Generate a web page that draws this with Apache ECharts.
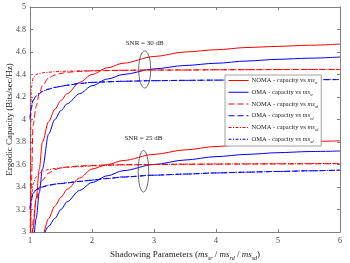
<!DOCTYPE html>
<html>
<head>
<meta charset="utf-8">
<script src="https://cdn.jsdelivr.net/npm/echarts@6/dist/echarts.min.js"></script>
<style>
html,body{margin:0;padding:0;background:#fff;}
#chart{width:350px;height:263px;}
</style>
</head>
<body>
<div id="chart"></div>
<script>
// ---- data ----
const xVals = [1, 1.02, 1.05, 1.1, 1.15, 1.2, 1.3, 1.4, 1.5, 1.6, 1.8, 2, 2.25, 2.5, 3, 3.5, 4, 4.5, 5, 5.5, 6];

// SNR = 30 dB
const nomaSr30 = [2.7, 2.85, 3.03, 3.3, 3.56, 3.8, 3.98, 4.09, 4.17, 4.23, 4.33, 4.40, 4.46, 4.50, 4.56, 4.60, 4.62, 4.64, 4.65, 4.66, 4.67];
const omaSr30  = [2.6, 2.75, 2.92, 3.12, 3.35, 3.56, 3.87, 4.0, 4.08, 4.14, 4.23, 4.30, 4.36, 4.40, 4.45, 4.48, 4.50, 4.52, 4.535, 4.545, 4.555];
const nomaRd30 = [2.5, 3.4, 3.95, 4.12, 4.23, 4.30, 4.37, 4.395, 4.41, 4.42, 4.428, 4.432, 4.435, 4.437, 4.44, 4.44, 4.442, 4.443, 4.444, 4.445, 4.445];
const omaRd30  = [4.0, 4.1, 4.17, 4.21, 4.23, 4.25, 4.27, 4.285, 4.295, 4.305, 4.32, 4.33, 4.335, 4.34, 4.345, 4.348, 4.35, 4.352, 4.353, 4.354, 4.355];
const nomaSd30 = [2.6, 4.28, 4.37, 4.40, 4.41, 4.415, 4.42, 4.425, 4.428, 4.43, 4.432, 4.434, 4.436, 4.438, 4.44, 4.44, 4.442, 4.443, 4.444, 4.445, 4.445];
const omaSd30  = [4.02, 4.11, 4.175, 4.21, 4.235, 4.25, 4.27, 4.285, 4.295, 4.305, 4.32, 4.33, 4.335, 4.34, 4.345, 4.348, 4.35, 4.352, 4.353, 4.354, 4.355];

// SNR = 25 dB
const nomaSr25 = [1.85, 2.0, 2.18, 2.45, 2.72, 2.97, 3.12, 3.23, 3.31, 3.38, 3.48, 3.56, 3.60, 3.635, 3.69, 3.73, 3.76, 3.78, 3.795, 3.805, 3.81];
const omaSr25  = [1.8, 1.95, 2.1, 2.35, 2.6, 2.97, 3.05, 3.12, 3.20, 3.27, 3.37, 3.44, 3.50, 3.545, 3.60, 3.64, 3.67, 3.69, 3.705, 3.715, 3.72];
const nomaRd25 = [1.7, 2.55, 3.1, 3.28, 3.39, 3.46, 3.525, 3.555, 3.57, 3.578, 3.587, 3.592, 3.596, 3.598, 3.60, 3.602, 3.603, 3.604, 3.605, 3.606, 3.607];
const omaRd25  = [3.2, 3.28, 3.34, 3.375, 3.39, 3.40, 3.415, 3.425, 3.43, 3.437, 3.45, 3.46, 3.475, 3.488, 3.505, 3.515, 3.525, 3.532, 3.538, 3.544, 3.55];
const nomaSd25 = [1.8, 3.3, 3.43, 3.49, 3.52, 3.54, 3.555, 3.565, 3.57, 3.575, 3.582, 3.587, 3.592, 3.596, 3.60, 3.603, 3.605, 3.606, 3.607, 3.608, 3.61];
const omaSd25  = [3.21, 3.29, 3.345, 3.378, 3.392, 3.402, 3.417, 3.426, 3.432, 3.438, 3.45, 3.462, 3.477, 3.49, 3.505, 3.515, 3.525, 3.532, 3.538, 3.544, 3.55];

const seriesNames = ['NOMA - capacity vs ms_sr', 'OMA - capacity vs ms_sr', 'NOMA - capacity vs ms_rd', 'OMA - capacity vs ms_rd', 'NOMA - capacity vs ms_sd', 'OMA - capacity vs ms_sd'];

// annotations (SNR groups)
const annLabels = ['SNR = 30 dB', 'SNR = 25 dB'];
const annX = [2.85, 2.83];
const annTextY = [4.68, 3.83];
const annEllY = [4.445, 3.54];
const annEllRx = [0.097, 0.085];
const annEllRy = [0.165, 0.185];

// ---- styles ----
const FONT = '"Liberation Serif", "DejaVu Serif", serif';
const RED = '#ff0000', BLUE = '#0000ff';
const DASH = [6, 3];
const DASHDOT = [3, 1.5, 1, 1.5];
const styleMap = [
  {color: RED, type: 'solid'},
  {color: BLUE, type: 'solid'},
  {color: RED, type: DASH},
  {color: BLUE, type: DASH},
  {color: RED, type: DASHDOT},
  {color: BLUE, type: DASHDOT}
];
const groups = [
  [nomaSr30, omaSr30, nomaRd30, omaRd30, nomaSd30, omaSd30],
  [nomaSr25, omaSr25, nomaRd25, omaRd25, nomaSd25, omaSd25]
];

const pair = arr => xVals.map((x, i) => [x, arr[i]]);

const series = [];
groups.forEach(g => {
  g.forEach((arr, k) => {
    series.push({
      name: seriesNames[k],
      type: 'line',
      data: pair(arr),
      symbol: 'none',
      smooth: 0.3,
      smoothMonotone: 'x',
      clip: true,
      color: styleMap[k].color,
      lineStyle: {color: styleMap[k].color, width: 1, type: styleMap[k].type},
      z: 3
    });
  });
});

series.push({
  type: 'custom',
  name: 'annotations',
  data: annX.map((x, i) => [x, annEllY[i], annEllRx[i], annEllRy[i], annTextY[i]]),
  z: 5,
  renderItem: function (params, api) {
    const i = params.dataIndex;
    const c = api.coord([api.value(0), api.value(1)]);
    const s = api.size([api.value(2), api.value(3)]);
    const t = api.coord([api.value(0), api.value(4)]);
    return {
      type: 'group',
      children: [
        {type: 'ellipse', shape: {cx: c[0], cy: c[1], rx: s[0], ry: s[1]},
         style: {fill: 'none', stroke: '#444', lineWidth: 0.8}},
        {type: 'text', style: {text: annLabels[i], x: t[0], y: t[1], align: 'center', verticalAlign: 'middle',
          font: '7px ' + FONT, fill: '#222'}}
      ]
    };
  }
});

const subRich = (size) => ({
  t: {fontFamily: FONT, fontSize: size, color: '#222', lineHeight: size + 3},
  i: {fontFamily: FONT, fontSize: size, fontStyle: 'italic', color: '#222', lineHeight: size + 3},
  s: {fontFamily: FONT, fontSize: Math.round(size * 0.68), fontStyle: 'italic', color: '#222', verticalAlign: 'bottom', lineHeight: Math.round(size * 0.68) + 1}
});

const toRich = name => {
  const m = name.match(/^(.*)ms_(\w+)$/);
  return '{t|' + m[1] + '}{i|ms}{s|' + m[2] + '}';
};

const axisCommon = {
  axisLine: {show: true, lineStyle: {color: '#808080', width: 1}},
  axisTick: {show: true, inside: true, length: 3, lineStyle: {color: '#808080'}},
  splitLine: {show: false}
};

const option = {
  animation: false,
  backgroundColor: '#fff',
  grid: {left: 30, right: 10, top: 7, bottom: 31, containLabel: false, outerBoundsMode: 'none'},
  legend: {
    data: seriesNames,
    orient: 'vertical',
    left: 225,
    top: 75,
    itemWidth: 20,
    itemHeight: 8,
    itemGap: 3.5,
    padding: [2, 3, 2, 3],
    backgroundColor: '#fff',
    borderColor: '#8c8c8c',
    borderWidth: 0.8,
    borderRadius: 0,
    z: 10,
    itemStyle: {opacity: 0, borderWidth: 0},
    lineStyle: {width: 1},
    formatter: toRich,
    textStyle: {fontFamily: FONT, fontSize: 6.5, color: '#222', padding: [0, 0, 0, -2], rich: subRich(6.5)}
  },
  xAxis: [
    Object.assign({
      type: 'value', min: 1, max: 6, interval: 1, position: 'bottom',
      axisLabel: {fontFamily: FONT, fontSize: 8, color: '#444', margin: 5},
      name: '{t|Shadowing Parameters (}{i|ms}{s|sr}{t| / }{i|ms}{s|rd}{t| / }{i|ms}{s|sd}{t|)}',
      nameLocation: 'middle', nameGap: 17, nameMoveOverlap: false,
      nameTextStyle: {fontFamily: FONT, fontSize: 9, color: '#222', rich: subRich(9)}
    }, axisCommon),
    Object.assign({
      type: 'value', min: 1, max: 6, interval: 1, position: 'top',
      axisLabel: {show: false}
    }, axisCommon)
  ],
  yAxis: [
    Object.assign({
      type: 'value', min: 3, max: 5, interval: 0.2, position: 'left',
      axisLabel: {fontFamily: FONT, fontSize: 8, color: '#444', margin: 4},
      name: 'Ergodic Capacity (Bits/sec/Hz)',
      nameLocation: 'middle', nameGap: 16, nameMoveOverlap: false,
      nameTextStyle: {fontFamily: FONT, fontSize: 9, color: '#222'}
    }, axisCommon),
    Object.assign({
      type: 'value', min: 3, max: 5, interval: 0.2, position: 'right',
      axisLabel: {show: false}
    }, axisCommon)
  ],
  series: series
};

const chart = echarts.init(document.getElementById('chart'), null, {renderer: 'canvas'});
chart.setOption(option);
</script>
</body>
</html>
